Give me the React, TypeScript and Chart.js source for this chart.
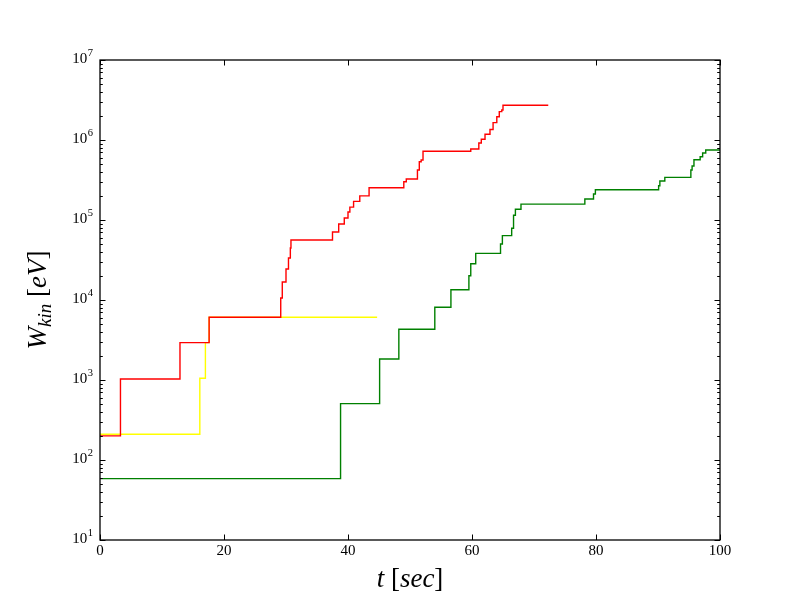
import React, { useEffect, useRef } from "react";
import { Chart, registerables } from "chart.js";

Chart.register(...registerables);

// time (sec) of each jump and kinetic energy (eV) after it
const redT = [0, 3.3, 12.9, 17.6, 29.15, 29.4, 30.0, 30.4, 30.7, 30.8, 37.5, 38.5, 39.4, 40.0, 40.3, 40.9, 41.9, 43.4, 49.0, 49.4, 51.2, 51.5, 51.8, 52.1, 59.8, 61.1, 61.5, 62.1, 62.9, 63.4, 64.0, 64.4, 64.8, 65.0, 72.3];
const redW = [200, 1030, 2930, 6080, 10600, 16800, 24400, 33500, 44700, 56200, 70800, 89100, 106000, 126000, 145000, 171000, 200000, 253000, 301000, 325000, 422000, 534000, 562000, 722000, 772000, 917000, 1020000, 1180000, 1350000, 1650000, 1950000, 2260000, 2370000, 2720000, 2720000];

const yellowT = [0, 16.1, 17.0, 17.6, 44.7];
const yellowW = [210, 1050, 2930, 6080, 6080];

const greenT = [0, 38.8, 45.1, 48.2, 54.0, 56.6, 59.5, 59.8, 60.6, 64.6, 64.9, 66.4, 66.7, 67.0, 67.9, 78.2, 79.6, 79.9, 90.1, 90.3, 91.1, 95.3, 95.5, 95.8, 96.8, 97.2, 97.7, 100];
const greenW = [58.5, 506, 1830, 4300, 8100, 13450, 20100, 28400, 38300, 50100, 63700, 78800, 114600, 136000, 158000, 183000, 211000, 239000, 268000, 307000, 341000, 422000, 473000, 567000, 617000, 688000, 750000, 750000];

const xTicks = [0, 20, 40, 60, 80, 100];
const yExponents = [1, 2, 3, 4, 5, 6, 7];
const yMinorMultipliers = [2, 3, 4, 5, 6, 7, 8, 9];

const SERIF = '"Liberation Serif", "DejaVu Serif", serif';

const toPoints = (t: number[], w: number[]) => t.map((v, i) => ({ x: v, y: w[i] }));

type Piece = { t: string; f: string; dy?: number };

function drawPieces(ctx: CanvasRenderingContext2D, pieces: Piece[], cx: number, baseline: number) {
  let total = 0;
  const widths = pieces.map((p) => {
    ctx.font = p.f;
    const w = ctx.measureText(p.t).width;
    total += w;
    return w;
  });
  let x = cx - total / 2;
  ctx.textAlign = "left";
  ctx.textBaseline = "alphabetic";
  pieces.forEach((p, i) => {
    ctx.font = p.f;
    ctx.fillText(p.t, x, baseline + (p.dy || 0));
    x += widths[i];
  });
}

const framePlugin = {
  id: "mplFrame",
  afterDraw(chart: any) {
    const { ctx, chartArea: a, scales } = chart;
    const xs = scales.x;
    const ys = scales.y;
    ctx.save();
    ctx.strokeStyle = "#000";
    ctx.fillStyle = "#000";
    ctx.lineWidth = 1;
    ctx.beginPath();
    const major = 5.5;
    const minor = 2.8;
    for (const t of xTicks) {
      const px = Math.round(xs.getPixelForValue(t)) + 0.5;
      ctx.moveTo(px, a.bottom);
      ctx.lineTo(px, a.bottom - major);
      ctx.moveTo(px, a.top);
      ctx.lineTo(px, a.top + major);
    }
    for (const e of yExponents) {
      const py = Math.round(ys.getPixelForValue(Math.pow(10, e))) + 0.5;
      ctx.moveTo(a.left, py);
      ctx.lineTo(a.left + major, py);
      ctx.moveTo(a.right, py);
      ctx.lineTo(a.right - major, py);
      if (e < 7) {
        for (const m of yMinorMultipliers) {
          const pm = Math.round(ys.getPixelForValue(m * Math.pow(10, e))) + 0.5;
          ctx.moveTo(a.left, pm);
          ctx.lineTo(a.left + minor, pm);
          ctx.moveTo(a.right, pm);
          ctx.lineTo(a.right - minor, pm);
        }
      }
    }
    ctx.stroke();
    ctx.lineWidth = 1.3;
    ctx.strokeRect(a.left, a.top, a.right - a.left, a.bottom - a.top);

    // x tick labels
    ctx.font = `15px ${SERIF}`;
    ctx.textAlign = "center";
    ctx.textBaseline = "middle";
    for (const t of xTicks) {
      ctx.fillText(String(t), xs.getPixelForValue(t), a.bottom + 11);
    }
    // y tick labels 10^e
    for (const e of yExponents) {
      const py = ys.getPixelForValue(Math.pow(10, e));
      ctx.font = `10.5px ${SERIF}`;
      const sup = String(e);
      const sw = ctx.measureText(sup).width;
      const right = a.left - 7;
      ctx.textAlign = "right";
      ctx.textBaseline = "alphabetic";
      ctx.fillText(sup, right, py - 4);
      ctx.font = `15px ${SERIF}`;
      ctx.fillText("10", right - sw - 0.5, py + 2.5);
    }

    // x axis title
    const big = 27;
    drawPieces(
      ctx,
      [
        { t: "t", f: `italic ${big}px ${SERIF}` },
        { t: " ", f: `${big}px ${SERIF}` },
        { t: "[", f: `${big}px ${SERIF}` },
        { t: "sec", f: `italic ${big}px ${SERIF}` },
        { t: "]", f: `${big}px ${SERIF}` },
      ],
      (a.left + a.right) / 2,
      587
    );

    // y axis title (rotated)
    ctx.save();
    ctx.translate(46, (a.top + a.bottom) / 2);
    ctx.rotate(-Math.PI / 2);
    drawPieces(
      ctx,
      [
        { t: "W", f: `italic ${big}px ${SERIF}` },
        { t: "kin", f: `italic 19px ${SERIF}`, dy: 5 },
        { t: " ", f: `${big}px ${SERIF}` },
        { t: "[", f: `${big}px ${SERIF}` },
        { t: "eV", f: `italic ${big}px ${SERIF}` },
        { t: "]", f: `${big}px ${SERIF}` },
      ],
      0,
      0
    );
    ctx.restore();
    ctx.restore();
  },
};

export default function App() {
  const canvasRef = useRef<HTMLCanvasElement | null>(null);

  useEffect(() => {
    document.body.style.margin = "0";
    const canvas = canvasRef.current;
    if (!canvas) return;
    const common = { pointRadius: 0, borderWidth: 1.4, stepped: "before" as const, fill: false };
    const chart = new Chart(canvas, {
      type: "line",
      data: {
        datasets: [
          { label: "red", data: toPoints(redT, redW), borderColor: "#ff0000", order: 0, ...common },
          { label: "yellow", data: toPoints(yellowT, yellowW), borderColor: "#ffff00", order: 1, ...common },
          { label: "green", data: toPoints(greenT, greenW), borderColor: "#008000", order: 2, ...common },
        ],
      },
      options: {
        animation: false,
        responsive: false,
        devicePixelRatio: 1,
        layout: { padding: { top: 60, right: 80, left: 0, bottom: 0 } },
        plugins: { legend: { display: false }, tooltip: { enabled: false } },
        scales: {
          x: {
            type: "linear",
            min: 0,
            max: 100,
            grid: { display: false, drawTicks: false },
            border: { display: false },
            ticks: { display: false, stepSize: 20 },
            afterFit: (s: any) => {
              s.height = 60;
            },
          },
          y: {
            type: "logarithmic",
            min: 10,
            max: 1e7,
            grid: { display: false, drawTicks: false },
            border: { display: false },
            ticks: { display: false },
            afterFit: (s: any) => {
              s.width = 100;
            },
          },
        },
      },
      plugins: [framePlugin],
    });
    return () => chart.destroy();
  }, []);

  return (
    <div style={{ position: "absolute", left: 0, top: 0, width: 800, height: 600, background: "#fff" }}>
      <canvas ref={canvasRef} width={800} height={600} style={{ width: 800, height: 600 }} />
    </div>
  );
}
